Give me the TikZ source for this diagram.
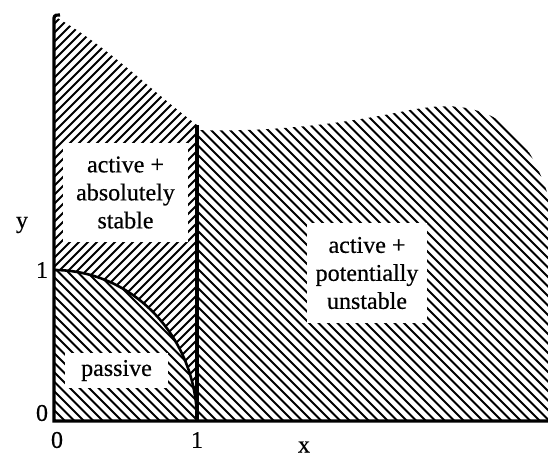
\documentclass[tikz,border=0pt]{standalone}
\usepackage{fontspec}
\newfontfamily\lblfont[FakeBold=0.5]{Liberation Serif}
\begin{document}
\begin{tikzpicture}[x=1pt,y=-1pt,
  hatch/.style={line width=2.1pt},
  lbl/.style={fill=white, align=center, inner sep=0pt, font=\lblfont\fontsize{24}{28}\selectfont},
  axlbl/.style={inner sep=0pt, font=\lblfont\fontsize{24}{28}\selectfont},
  axis/.style={line width=3.2pt},
  bound/.style={line width=2.6pt}]
\useasboundingbox (0,0) rectangle (548,458);
% upper left region: "/" hatch
\begin{scope}
  \clip (54,16) .. controls (110,48) and (150,90) .. (197,125) -- (197,421)
        arc[start angle=0, end angle=-90, x radius=143, y radius=151] -- cycle;
  \foreach \i in {-470,-461,...,560} \draw[hatch] (\i,458) -- ++(458,-458);
\end{scope}
% passive region: "\" hatch
\begin{scope}
  \clip (54,270) arc[start angle=-90, end angle=0, x radius=143, y radius=151] -- (54,421) -- cycle;
  \foreach \i in {-470,-460.5,...,560} \draw[hatch] (\i,0) -- ++(458,458);
\end{scope}
% right region: "\" hatch
\begin{scope}
  \clip (197,130) .. controls (260,132) and (330,126) .. (400,112)
        .. controls (425,107) and (450,103) .. (475,110)
        .. controls (505,118) and (530,140) .. (548,195) -- (548,421) -- (197,421) -- cycle;
  \foreach \i in {-470,-460.5,...,560} \draw[hatch] (\i,0) -- ++(458,458);
\end{scope}
% axes and boundaries
\coordinate (O) at (54,421);
\coordinate (Ytop) at (54,18);
\coordinate (Xend) at (548,421);
\coordinate (Vtop) at (197,125);
\coordinate (Vbot) at (197,421);
\coordinate (Ey) at (54,270);
\draw[axis] (Xend) -- (O) -- (Ytop) to[out=90,in=160] (60,15);
\draw[axis] (Vbot) -- (Vtop);
\draw[bound] (Ey) arc[start angle=-90, end angle=0, x radius=143, y radius=151];
% labels
\node[lbl, minimum width=125pt, minimum height=99pt] (as) at (125.5,192.5) {active +\\absolutely\\stable};
\node[lbl, minimum width=103pt, minimum height=35pt] (pa) at (116.5,370.5) {passive};
\node[lbl, minimum width=120pt, minimum height=100pt] (pu) at (367,273) {active +\\potentially\\unstable};
\node[axlbl] (y) at (22,225) {y};
\node[axlbl] (y1) at (42,270) {1};
\node[axlbl] (y0) at (42,413) {0};
\node[axlbl] (x0) at (57,440) {0};
\node[axlbl] (x1) at (197,440) {1};
\node[axlbl] (x) at (304,447) {x};
\end{tikzpicture}
\end{document}
